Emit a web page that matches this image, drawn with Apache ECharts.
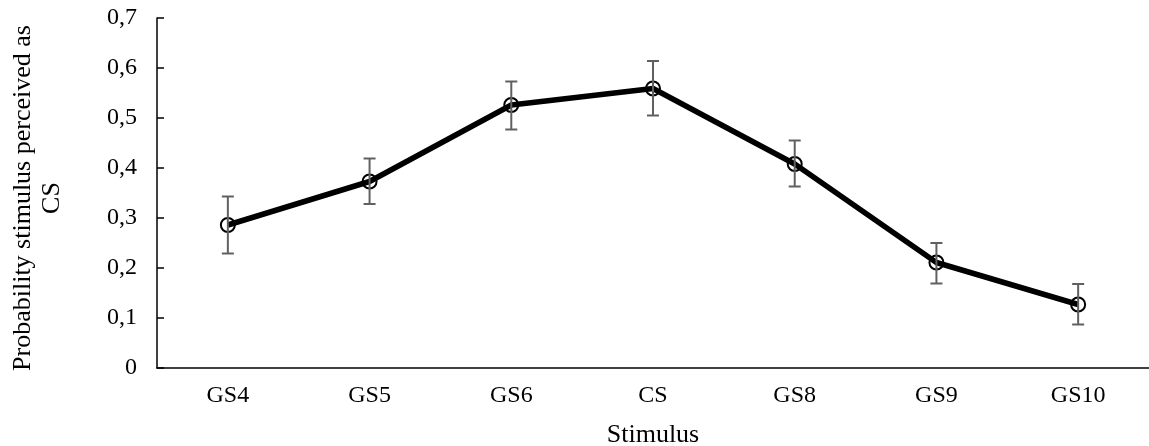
<!DOCTYPE html>
<html>
<head>
<meta charset="utf-8">
<script src="https://cdn.jsdelivr.net/npm/echarts@6/dist/echarts.min.js"></script>
<style>
html,body{margin:0;padding:0;background:#fff;}
#chart{width:1149px;height:446px;}
</style>
</head>
<body>
<div id="chart"></div>
<script>
var categories = ['GS4', 'GS5', 'GS6', 'CS', 'GS8', 'GS9', 'GS10'];
var means = [0.286, 0.373, 0.526, 0.559, 0.408, 0.211, 0.127];
var upper = [0.343, 0.419, 0.573, 0.614, 0.455, 0.250, 0.168];
var lower = [0.229, 0.328, 0.477, 0.505, 0.363, 0.169, 0.087];
var yTicks = [0, 0.1, 0.2, 0.3, 0.4, 0.5, 0.6, 0.7];

var FONT = '"Liberation Serif", "DejaVu Serif", serif';

var errData = categories.map(function (c, i) { return [i, lower[i], upper[i]]; });

var chart = echarts.init(document.getElementById('chart'));
chart.setOption({
  animation: false,
  backgroundColor: '#ffffff',
  grid: { left: 157, right: 0, top: 18, bottom: 78, containLabel: false, outerBoundsMode: 'none' },
  xAxis: {
    type: 'category',
    data: categories,
    name: 'Stimulus',
    nameLocation: 'middle',
    nameGap: 54,
    nameTextStyle: { fontFamily: FONT, fontSize: 26, color: '#000' },
    axisLine: { lineStyle: { color: '#000', width: 1.5 } },
    axisTick: { inside: true, alignWithLabel: true, length: 5, lineStyle: { color: '#000', width: 1.5 } },
    axisLabel: { fontFamily: FONT, fontSize: 24, color: '#000', margin: 16 },
    splitLine: { show: false }
  },
  yAxis: {
    type: 'value',
    min: yTicks[0],
    max: yTicks[yTicks.length - 1],
    interval: 0.1,
    name: 'Probability stimulus perceived as\nCS',
    nameLocation: 'middle',
    nameRotate: 90,
    nameGap: 90,
    nameTextStyle: { fontFamily: FONT, fontSize: 26, color: '#000', lineHeight: 29, padding: [0, 10, 0, 0] },
    axisLine: { show: true, lineStyle: { color: '#000', width: 1.5 } },
    axisTick: { show: true, inside: true, length: 7, lineStyle: { color: '#000', width: 1.5 } },
    axisLabel: {
      fontFamily: FONT, fontSize: 24, color: '#000', margin: 20,
      formatter: function (v) { return String(Math.round(v * 10) / 10).replace('.', ','); }
    },
    splitLine: { show: false }
  },
  series: [
    {
      type: 'line',
      data: means,
      z: 2,
      lineStyle: { color: '#000', width: 5.5 },
      symbol: 'circle',
      symbolSize: 14,
      itemStyle: { color: 'transparent', borderColor: '#000', borderWidth: 2 }
    },
    {
      type: 'custom',
      z: 3,
      data: errData,
      renderItem: function (params, api) {
        var x = api.value(0);
        var lo = api.coord([x, api.value(1)]);
        var hi = api.coord([x, api.value(2)]);
        var hw = 6;
        var style = { stroke: '#606060', lineWidth: 2 };
        return {
          type: 'group',
          children: [
            { type: 'line', shape: { x1: lo[0], y1: lo[1], x2: hi[0], y2: hi[1] }, style: style },
            { type: 'line', shape: { x1: hi[0] - hw, y1: hi[1], x2: hi[0] + hw, y2: hi[1] }, style: style },
            { type: 'line', shape: { x1: lo[0] - hw, y1: lo[1], x2: lo[0] + hw, y2: lo[1] }, style: style }
          ]
        };
      }
    }
  ]
});
</script>
</body>
</html>
